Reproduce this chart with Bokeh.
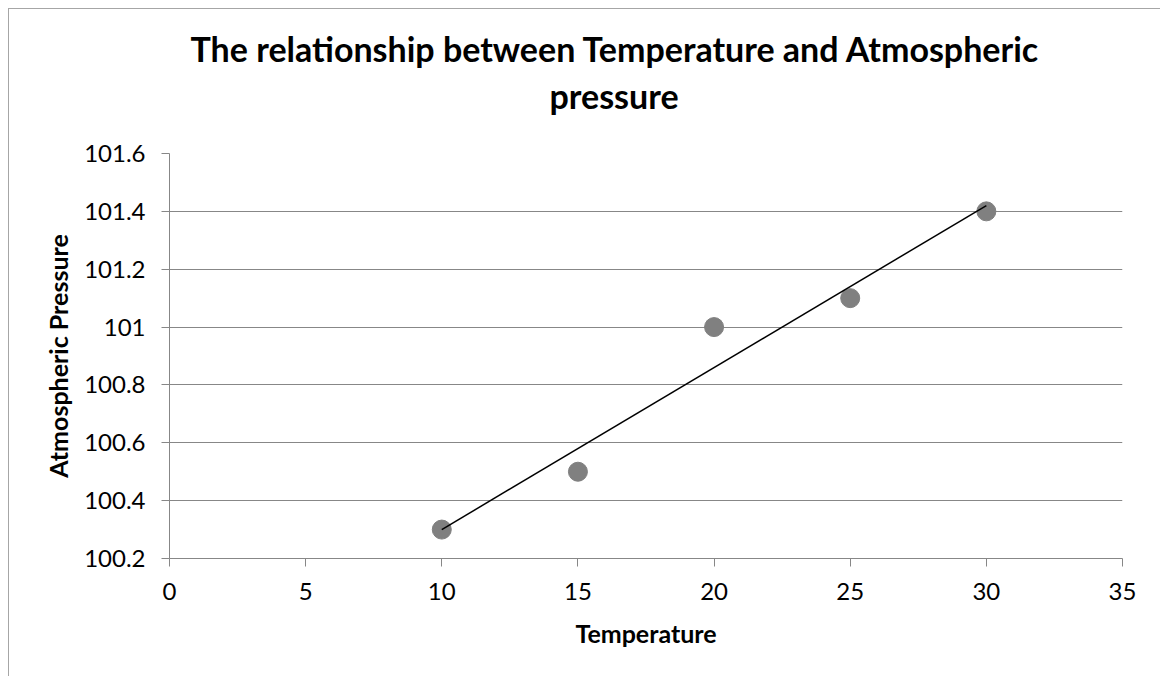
import numpy as np
from bokeh.plotting import figure
from bokeh.models import Title, FixedTicker, CustomJSTickFormatter, Range1d
from bokeh.embed import file_html
from bokeh.resources import INLINE

# ---- data ----
temperature = [10, 15, 20, 25, 30]
pressure = [100.3, 100.5, 101.0, 101.1, 101.4]
x_ticks = [0, 5, 10, 15, 20, 25, 30, 35]
y_ticks = [100.2, 100.4, 100.6, 100.8, 101.0, 101.2, 101.4, 101.6]
title_lines = ["The relationship between Temperature and Atmospheric", "pressure"]
x_title = "Temperature"
y_title = "Atmospheric Pressure"

FONT = "Lato"
GRID = "#878787"

W, H = 1152, 668
p = figure(width=W, height=H, output_backend="svg", toolbar_location=None,
           x_range=Range1d(x_ticks[0], x_ticks[-1]),
           y_range=Range1d(y_ticks[0], y_ticks[-1]),
           min_border_left=160, min_border_right=39,
           min_border_top=144, min_border_bottom=119)
p.styles = {"border-left": "1px solid #a6a6a6", "border-top": "1px solid #a6a6a6",
            "margin-left": "8px", "margin-top": "8px"}
p.outline_line_color = None
p.background_fill_color = "white"
p.border_fill_color = "white"

# grid
p.xgrid.visible = False
p.ygrid.grid_line_color = GRID
p.ygrid.grid_line_width = 1
p.ygrid.ticker = FixedTicker(ticks=y_ticks)

# axes
for ax in (p.xaxis[0], p.yaxis[0]):
    ax.axis_line_color = GRID
    ax.axis_line_width = 1
    ax.major_tick_line_color = GRID
    ax.major_tick_out = 8
    ax.major_tick_in = 0
    ax.minor_tick_line_color = None
    ax.major_label_text_font = FONT
    ax.major_label_text_font_size = "24px"
    ax.major_label_text_color = "black"
    ax.axis_label_text_font = FONT
    ax.axis_label_text_font_style = "bold"
    ax.axis_label_text_font_size = "25px"
    ax.axis_label_text_color = "black"

p.xaxis.ticker = FixedTicker(ticks=x_ticks)
p.yaxis.ticker = FixedTicker(ticks=y_ticks)
p.yaxis.formatter = CustomJSTickFormatter(code="return tick.toFixed(1).replace(/\\.0$/, '');")
p.xaxis.axis_label = x_title
p.yaxis.axis_label = y_title
p.xaxis.major_label_standoff = 16
p.yaxis.major_label_standoff = 16
p.xaxis.axis_label_standoff = 15
p.yaxis.axis_label_standoff = 8

# trendline (least squares fit of the data)
slope, intercept = np.polyfit(temperature, pressure, 1)
tx = [min(temperature), max(temperature)]
ty = [slope * v + intercept for v in tx]

p.scatter(temperature, pressure, size=19, marker="circle",
          fill_color="#808080", line_color="#808080")
p.line(tx, ty, line_color="black", line_width=1.5)

# title (two lines, centered on the chart area)
p.title.visible = False
t2 = Title(text=title_lines[1], align="left", offset=380, text_font=FONT,
           text_font_style="bold", text_font_size="34px", text_color="black", standoff=76)
t1 = Title(text=title_lines[0], align="left", offset=21, text_font=FONT,
           text_font_style="bold", text_font_size="34px", text_color="black", standoff=-68)
p.add_layout(t2, "above")
p.add_layout(t1, "above")

open("out.html", "w").write(file_html(p, INLINE))
